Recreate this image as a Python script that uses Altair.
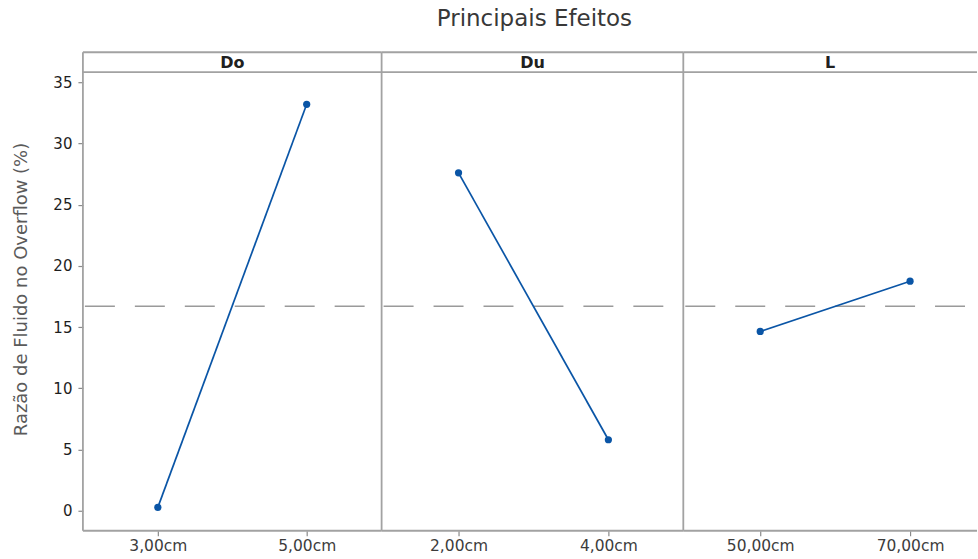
import altair as alt
import pandas as pd

# ---- data ----
factor_col = ["Do", "Do", "Du", "Du", "L", "L"]
level_col = ["3,00cm", "5,00cm", "2,00cm", "4,00cm", "50,00cm", "70,00cm"]
mean_col = [0.28, 33.2, 27.6, 5.8, 14.65, 18.75]
factors = ["Do", "Du", "L"]
grand_mean = 16.7
y_ticks = [0, 5, 10, 15, 20, 25, 30, 35]

df = pd.DataFrame({"factor": factor_col, "level": level_col, "mean": mean_col})

FONT = "DejaVu Sans"
BLUE = "#0a55a6"
BORDER = "#a2a2a2"
HEADER = 20
H = 479
widths = [299, 302, 294]
xranges = [[75, 224], [77, 227], [77, 227]]

y_scale = alt.Scale(domain=[-1.63, 35.82], range=[H, HEADER], nice=False, zero=False)


def panel(f, width, xrange, first):
    d = df[df["factor"] == f]
    lv = list(d["level"])
    x = alt.X(
        "level:N",
        sort=lv,
        scale=alt.Scale(type="point", domain=lv, range=xrange, padding=0),
        axis=alt.Axis(
            title=None, labelAngle=0, domain=False, grid=False, ticks=True,
            tickSize=5, tickColor="#8a8a8a", tickWidth=1.2,
            labelFont=FONT, labelFontSize=15.5, labelColor="#3c3c3c", labelPadding=3,
        ),
    )
    if first:
        yaxis = alt.Axis(
            values=y_ticks, title="Razão de Fluido no Overflow (%)", domain=False, grid=False,
            tickSize=5, tickColor="#8a8a8a", tickWidth=1.2,
            labelFont=FONT, labelFontSize=15, labelColor="#1e1e1e", labelPadding=6,
            titleFont=FONT, titleFontSize=18, titleFontWeight="normal", titleColor="#5a5a5a",
            titleX=-61, titleY=237, titleBaseline="middle",
        )
    else:
        yaxis = None
    y = alt.Y("mean:Q", scale=y_scale, axis=yaxis)

    mean_rule = alt.Chart(pd.DataFrame({"mean": [grand_mean]})).mark_rule(
        color="#9a9a9a", strokeWidth=1.6, strokeDash=[30, 20]
    ).encode(y=alt.Y("mean:Q", scale=y_scale, axis=yaxis), x=alt.value(2), x2=alt.value(width))

    line = alt.Chart(d).mark_line(color=BLUE, strokeWidth=1.7).encode(x=x, y=y)
    pts = alt.Chart(d).mark_circle(color=BLUE, size=52, opacity=1).encode(x=x, y=y)

    one = pd.DataFrame({"factor": [f]})
    deco = alt.Chart(one)
    left = deco.mark_rule(color=BORDER, strokeWidth=1.8).encode(
        x=alt.value(0), y=alt.value(0), y2=alt.value(H))
    top = deco.mark_rule(color=BORDER, strokeWidth=1.8).encode(
        x=alt.value(0), x2=alt.value(width), y=alt.value(0))
    hline = deco.mark_rule(color=BORDER, strokeWidth=1.8).encode(
        x=alt.value(0), x2=alt.value(width), y=alt.value(HEADER))
    bottom = deco.mark_rule(color=BORDER, strokeWidth=1.8).encode(
        x=alt.value(0), x2=alt.value(width), y=alt.value(H))
    head = deco.mark_text(font=FONT, fontSize=16, fontWeight="bold", color="#202020",
                          baseline="middle", align="center").encode(
        text="factor:N", x=alt.value(width / 2), y=alt.value(HEADER / 2 + 1))

    return alt.layer(mean_rule, line, pts, left, top, hline, bottom, head).properties(
        width=width, height=H)


panels = [panel(f, w, r, i == 0) for i, (f, w, r) in enumerate(zip(factors, widths, xranges))]

chart = alt.hconcat(*panels, spacing=0, bounds="flush").properties(
    title=alt.TitleParams("Principais Efeitos", font=FONT, fontSize=23, fontWeight="normal",
                          color="#383838", anchor="middle", dx=39, offset=20),
    padding={"left": 13, "top": 8, "right": 0, "bottom": 0},
    background="white",
).configure_view(stroke=None)

chart.save("out.html", embed_options={"renderer": "svg", "actions": False})
